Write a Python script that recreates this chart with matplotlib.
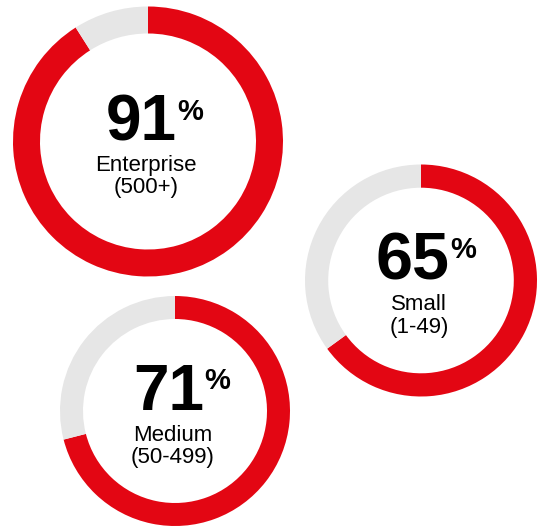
import matplotlib.pyplot as plt

# data
segments = ['Enterprise', 'Small', 'Medium']
sizes = ['(500+)', '(1-49)', '(50-499)']
percents = [91, 65, 71]

# layout (pixels, y measured from top)
W, H = 543, 527
centers = [(148, 141.5), (421, 280.5), (175, 411)]
radii = [135, 116, 115]
num_sizes = [46, 48, 46]

RED = '#E30613'
GREY = '#E6E6E6'

fig = plt.figure(figsize=(W / 100, H / 100), dpi=100)
ax = fig.add_axes([0, 0, 1, 1])

for seg, size, pct, (cx, cy), r, fs in zip(segments, sizes, percents, centers, radii, num_sizes):
    y = H - cy
    ax.pie([pct, 100 - pct], colors=[RED, GREY], startangle=90, counterclock=False,
           center=(cx, y), radius=r, wedgeprops=dict(width=r * 0.2, linewidth=0),
           frame=True)
    ax.text(cx + 29, y + 1, str(pct), ha='right', va='baseline', fontsize=fs,
            fontweight='bold', family='Liberation Sans', color='black')
    ax.text(cx + 29, y + 22, '%', ha='left', va='baseline', fontsize=21,
            fontweight='bold', family='Liberation Sans', color='black')
    ax.text(cx - 2, y - 30, seg, ha='center', va='baseline', fontsize=16,
            family='Liberation Sans', color='black')
    ax.text(cx - 2, y - 52, size, ha='center', va='baseline', fontsize=16,
            family='Liberation Sans', color='black')

ax.set_xlim(0, W)
ax.set_ylim(0, H)
ax.set_aspect('equal')
ax.axis('off')

fig.savefig('out.png', dpi=100, facecolor='white')
